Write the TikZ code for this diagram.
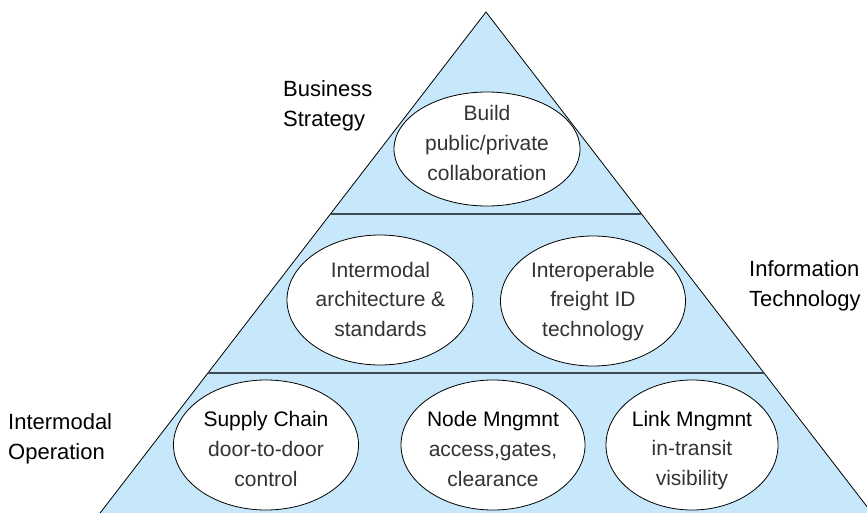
\documentclass[tikz,border=0pt]{standalone}
\usepackage{fontspec}
\setmainfont{Liberation Sans}
\usetikzlibrary{shapes.geometric}
\definecolor{pyr}{RGB}{198,232,250}
\definecolor{divline}{RGB}{60,72,82}
\begin{document}
\begin{tikzpicture}[x=1pt,y=-1pt,
  ell/.style={draw=black, line width=0.8pt, fill=white, ellipse, inner sep=0pt},
  txt/.style={align=center, anchor=base, font=\fontsize{21}{29.7}\selectfont, text=black!80, inner sep=0pt},
  side/.style={align=left, anchor=base west, font=\fontsize{22}{29.5}\selectfont, text=black, inner sep=0pt},
  hd/.style={text=black}]
\useasboundingbox (0,0) rectangle (867,512);
\clip (0,0) rectangle (867,512);
% pyramid
\coordinate (apex) at (486,12);
\coordinate (baseL) at (87,530);
\coordinate (baseR) at (885,530);
\draw[fill=pyr, line width=0.8pt] (apex) -- (baseL) -- (baseR) -- cycle;
% dividers
\coordinate (d1l) at (330.5,214);
\coordinate (d1r) at (641.5,214);
\coordinate (d2l) at (208,373);
\coordinate (d2r) at (764,373);
\draw[divline, line width=1.2pt] (d1l) -- (d1r);
\draw[divline, line width=1.2pt] (d2l) -- (d2r);
% ellipses
\node[ell, minimum width=186pt, minimum height=114pt] (top) at (487,149) {};
\node[ell, minimum width=186pt, minimum height=130pt] (ml) at (380,300) {};
\node[ell, minimum width=185pt, minimum height=130pt] (mr) at (593,301) {};
\node[ell, minimum width=185pt, minimum height=130pt] (bl) at (266,445) {};
\node[ell, minimum width=184pt, minimum height=130pt] (bm) at (493,445) {};
\node[ell, minimum width=172pt, minimum height=130pt] (br) at (692,445) {};
% texts
\node[txt] (topT) at (487,180) {Build\\public/private\\collaboration};
\node[txt] (mlT) at (380.5,336.5) {Intermodal\\architecture \&\\standards};
\node[txt] (mrT) at (593,336.5) {Interoperable\\freight ID\\technology};
\node[txt] (blT) at (266,486) {{\color{black}Supply Chain}\\door-to-door\\control};
\node[txt] (bmT) at (493,486) {{\color{black}Node Mngmnt}\\access,gates,\\clearance};
\node[txt] (brT) at (692,485.5) {{\color{black}Link Mngmnt}\\in-transit\\visibility};
% side labels
\node[side] (bs) at (283,126) {Business\\Strategy};
\node[side] (it) at (749,306) {Information\\Technology};
\node[side] (io) at (8,459) {Intermodal\\Operation};
\end{tikzpicture}
\end{document}
